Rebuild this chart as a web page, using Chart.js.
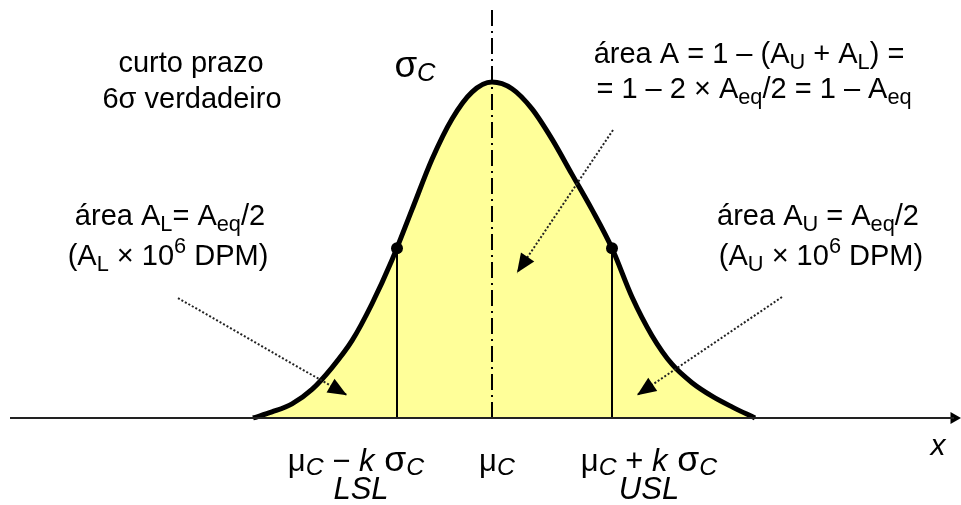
<!DOCTYPE html>
<html>
<head>
<meta charset="utf-8">
<script src="https://cdn.jsdelivr.net/npm/chart.js@4/dist/chart.umd.min.js"></script>
<style>
    html, body { margin: 0; padding: 0; background: #fff; }
</style>
</head>
<body>
<canvas id="chartCanvas" width="961" height="505"></canvas>
<script>
// Short-term distribution, x in sigma units, y relative to the peak height
const curveX = [-2.39, -2.2, -2.0, -1.8, -1.6, -1.4, -1.2, -1.0, -0.8, -0.6, -0.4, -0.2, 0,
                0.2, 0.4, 0.6, 0.8, 1.0, 1.2, 1.4, 1.6, 1.8, 2.0, 2.2, 2.4, 2.63];
const curveY = [0, 0.018, 0.042, 0.085, 0.15, 0.23, 0.34, 0.47, 0.62, 0.77, 0.89, 0.97, 1,
                0.98, 0.92, 0.83, 0.725, 0.62, 0.505, 0.36, 0.245, 0.16, 0.105, 0.065, 0.033, 0];

// LSL / USL positions and the height where they meet the curve
const limitX = [-0.95, 1.2];
const limitY = [0.505, 0.505];

// mean line, horizontal axis
const meanX = 0;
const meanTop = 1.214;
const axisX = [-4.82, 4.62];

// dotted pointer arrows: start -> tip
const arrowFrom = [[-3.14, 0.357], [1.21, 0.857], [2.90, 0.360]];
const arrowTo = [[-1.45, 0.068], [0.25, 0.432], [1.45, 0.068]];

// text runs: [text, style]
const lblCurto = [['curto prazo', '']];
const lblVerd = [['6σ verdadeiro', '']];
const lblSigma = [['σ', 'big'], ['C', 'isub']];
const lblArea1 = [['área A = 1 – (A', ''], ['U', 'sub'], [' + A', ''], ['L', 'sub'], [') =', '']];
const lblArea2 = [['= 1 – 2 × A', ''], ['eq', 'sub'], ['/2 = 1 – A', ''], ['eq', 'sub']];
const lblLow1 = [['área A', ''], ['L', 'sub'], ['= A', ''], ['eq', 'sub'], ['/2', '']];
const lblLow2 = [['(A', ''], ['L', 'sub'], [' × 10', ''], ['6', 'sup'], [' DPM)', '']];
const lblUp1 = [['área A', ''], ['U', 'sub'], [' = A', ''], ['eq', 'sub'], ['/2', '']];
const lblUp2 = [['(A', ''], ['U', 'sub'], [' × 10', ''], ['6', 'sup'], [' DPM)', '']];
const lblLsl = [['μ', ''], ['C', 'isub'], [' − ', ''], ['k', 'i'], [' σ', 'big'], ['C', 'isub']];
const lblMu = [['μ', ''], ['C', 'isub']];
const lblUsl = [['μ', ''], ['C', 'isub'], [' + ', ''], ['k', 'i'], [' σ', 'big'], ['C', 'isub']];
const lblLslName = [['LSL', 'i']];
const lblUslName = [['USL', 'i']];
const lblX = [['x', 'i']];

const FONT = "'Liberation Sans', Arial, sans-serif";

const textBlocks = [
    { runs: lblCurto, x: -3.01, y: 1.03, size: 29 },
    { runs: lblVerd, x: -3.00, y: 0.923, size: 29 },
    { runs: lblSigma, x: -0.77, y: 1.015, size: 32 },
    { runs: lblArea1, x: 2.57, y: 1.057, size: 29 },
    { runs: lblArea2, x: 2.62, y: 0.952, size: 29 },
    { runs: lblLow1, x: -3.22, y: 0.574, size: 29 },
    { runs: lblLow2, x: -3.24, y: 0.455, size: 29 },
    { runs: lblUp1, x: 3.26, y: 0.574, size: 29 },
    { runs: lblUp2, x: 3.29, y: 0.455, size: 29 },
    { runs: lblLsl, x: -1.36, y: -0.158, size: 31 },
    { runs: lblMu, x: 0.05, y: -0.158, size: 31 },
    { runs: lblUsl, x: 1.57, y: -0.158, size: 31 },
    { runs: lblLslName, x: -1.31, y: -0.24, size: 31 },
    { runs: lblUslName, x: 1.57, y: -0.24, size: 31 },
    { runs: lblX, x: 4.46, y: -0.11, size: 30 },
];

function runStyle(style, base) {
    switch (style) {
        case 'sub': return { font: `${base * 0.75}px ${FONT}`, dy: base * 0.22 };
        case 'sup': return { font: `${base * 0.75}px ${FONT}`, dy: -base * 0.4 };
        case 'i': return { font: `italic ${base}px ${FONT}`, dy: 0 };
        case 'isub': return { font: `italic ${base * 0.8}px ${FONT}`, dy: base * 0.12 };
        case 'big': return { font: `${base * 1.15}px ${FONT}`, dy: 0 };
        default: return { font: `${base}px ${FONT}`, dy: 0 };
    }
}

function drawRich(ctx, runs, cx, baseY, size) {
    const parts = runs.map(([text, style]) => {
        const s = runStyle(style, size);
        ctx.font = s.font;
        return { text, font: s.font, dy: s.dy, w: ctx.measureText(text).width };
    });
    const total = parts.reduce((a, p) => a + p.w, 0);
    let x = cx - total / 2;
    ctx.textAlign = 'left';
    ctx.textBaseline = 'alphabetic';
    parts.forEach(p => {
        ctx.font = p.font;
        ctx.fillText(p.text, x, baseY + p.dy);
        x += p.w;
    });
}

function drawHead(ctx, x0, y0, x1, y1, len, half) {
    const a = Math.atan2(y1 - y0, x1 - x0);
    ctx.beginPath();
    ctx.moveTo(x1, y1);
    ctx.lineTo(x1 - len * Math.cos(a) + half * Math.sin(a), y1 - len * Math.sin(a) - half * Math.cos(a));
    ctx.lineTo(x1 - len * Math.cos(a) - half * Math.sin(a), y1 - len * Math.sin(a) + half * Math.cos(a));
    ctx.closePath();
    ctx.fill();
}

// arrow heads and the formula text
const annotationPlugin = {
    id: 'annotations',
    afterDatasetsDraw(chart) {
        const { ctx, scales: { x, y } } = chart;
        ctx.save();
        ctx.fillStyle = '#000';
        arrowFrom.forEach((f, i) => {
            const t = arrowTo[i];
            drawHead(ctx, x.getPixelForValue(f[0]), y.getPixelForValue(f[1]),
                x.getPixelForValue(t[0]), y.getPixelForValue(t[1]), 19, 8);
        });
        textBlocks.forEach(b => {
            drawRich(ctx, b.runs, x.getPixelForValue(b.x), y.getPixelForValue(b.y), b.size);
        });
        ctx.restore();
    }
};

const line = (pts, extra) => Object.assign({
    data: pts.map(([px, py]) => ({ x: px, y: py })),
    borderColor: '#000',
    borderWidth: 2,
    pointRadius: 0,
    tension: 0,
    fill: false,
}, extra);

const datasets = [
    line(curveX.map((v, i) => [v, curveY[i]]), {
        borderWidth: 5,
        backgroundColor: '#FFFF99',
        fill: 'origin',
        cubicInterpolationMode: 'monotone',
        order: 2,
    }),
    {
        data: limitX.map((v, i) => ({ x: v, y: limitY[i] })),
        showLine: false,
        pointRadius: 6,
        pointBackgroundColor: '#000',
        pointBorderWidth: 0,
        order: 1,
    },
    line([[meanX, 0], [meanX, meanTop]], { borderDash: [16, 5, 2, 5], order: 3 }),
    line([[axisX[0], 0], [axisX[1], 0]], { borderColor: '#222', order: 1 }),
    {
        data: [{ x: axisX[1], y: 0 }],
        showLine: false,
        pointStyle: 'triangle',
        rotation: 90,
        pointRadius: 7,
        pointBackgroundColor: '#000',
        pointBorderWidth: 0,
        order: 1,
    },
];
limitX.forEach((v, i) => datasets.push(line([[v, 0], [v, limitY[i]]], { order: 3 })));
arrowFrom.forEach((f, i) => datasets.push(line([f, arrowTo[i]], {
    borderColor: '#222', borderWidth: 2, borderDash: [2, 2], order: 1,
})));

const ctx = document.getElementById('chartCanvas').getContext('2d');
new Chart(ctx, {
    type: 'line',
    data: { datasets },
    options: {
        responsive: false,
        animation: false,
        layout: { padding: 0, autoPadding: false },
        plugins: {
            legend: { display: false },
            tooltip: { enabled: false },
            filler: { drawTime: 'beforeDatasetsDraw' },
        },
        scales: {
            x: { type: 'linear', min: -4.92, max: 4.69, display: false },
            y: { type: 'linear', min: -0.259, max: 1.244, display: false },
        },
    },
    plugins: [annotationPlugin],
});
</script>
</body>
</html>
